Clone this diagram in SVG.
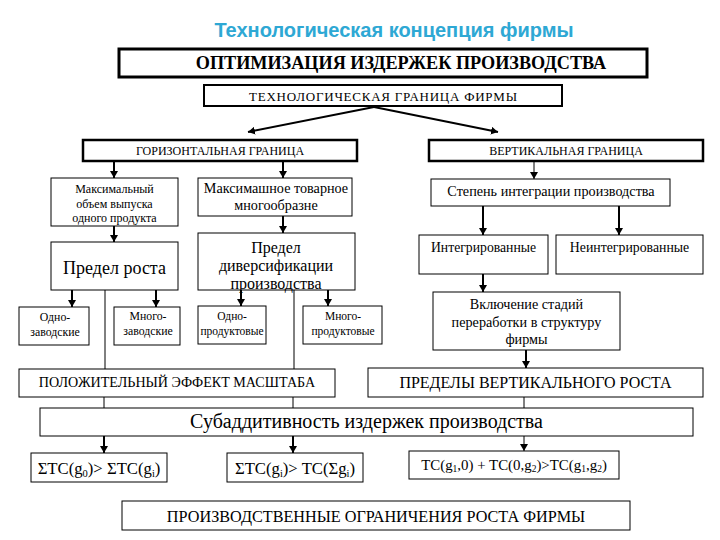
<svg xmlns="http://www.w3.org/2000/svg" width="720" height="540" viewBox="0 0 720 540">
<style>
  .bx{fill:#fff;stroke:#000;stroke-width:1}
  .b2{stroke-width:2}
  .b3{stroke-width:3}
  .bt{stroke-width:2.5}
  .t{font-family:"Liberation Serif","Times New Roman",serif;fill:#000;text-anchor:middle}
  .ln{stroke:#000;stroke-width:1;fill:none}
  .ar{stroke:#000;stroke-width:2;fill:none;marker-end:url(#ah)}
  .ar1{stroke:#000;stroke-width:1;fill:none;marker-end:url(#ah)}
</style>
<defs>
  <marker id="ah" markerUnits="userSpaceOnUse" markerWidth="8" markerHeight="8" refX="7" refY="4" orient="auto">
    <path d="M0,0 L7,4 L0,8 z" fill="#000"/>
  </marker>
</defs>
<rect width="720" height="540" fill="#fff"/>
<text x="394" y="37" font-family="Liberation Sans,Arial,sans-serif" font-weight="bold" font-size="20" fill="#2ea8d4" text-anchor="middle">Технологическая концепция фирмы</text>

<g id="connectors">
  <path class="ar" d="M374,107 L248,132"/>
  <path class="ar" d="M374,107 L498,132"/>
  <path class="ar" d="M114,161 V178"/>
  <path class="ar" d="M283,161 V178"/>
  <path class="ar" d="M114,226 V242"/>
  <path class="ar" d="M283,216 V233"/>
  <path class="ar" d="M72,290 V307"/>
  <path class="ar" d="M156,290 V307"/>
  <path class="ar" d="M241,290 V306"/>
  <path class="ar" d="M328,290 V306"/>
  <path class="ln" d="M105,287 V369"/>
  <path class="ln" d="M294,287 V369"/>
  <path class="ar1" d="M534,161 V179"/>
  <path class="ar" d="M483,206 V235"/>
  <path class="ar" d="M619,206 V235"/>
  <path class="ar" d="M483,274 V292"/>
  <path class="ar" d="M526,350 V368"/>
  <path class="ln" d="M104,397 V408"/>
  <path class="ln" d="M293,397 V408"/>
  <path class="ln" d="M524,397 V408"/>
  <path class="ar" d="M104,436 V453"/>
  <path class="ar" d="M293,436 V453"/>
  <path class="ar1" d="M524,436 V451"/>
</g>

<g id="optim"><rect class="bx b3" x="119" y="49" width="528" height="28"/>
<text class="t" x="401" y="69" font-size="18.2" font-weight="bold">ОПТИМИЗАЦИЯ ИЗДЕРЖЕК ПРОИЗВОДСТВА</text></g>

<g id="techbound"><rect class="bx b2" x="204" y="85" width="358" height="21"/>
<text class="t" x="383" y="101" font-size="13" textLength="268" lengthAdjust="spacing">ТЕХНОЛОГИЧЕСКАЯ ГРАНИЦА ФИРМЫ</text></g>

<g id="horiz"><rect class="bx bt" x="83" y="140" width="274" height="21"/>
<text class="t" x="220" y="155" font-size="12">ГОРИЗОНТАЛЬНАЯ ГРАНИЦА</text></g>

<g id="vert"><rect class="bx bt" x="429" y="140" width="274" height="21"/>
<text class="t" x="566" y="155" font-size="12">ВЕРТИКАЛЬНАЯ ГРАНИЦА</text></g>

<g id="maxvol"><rect class="bx" x="51" y="178" width="127" height="48"/>
<text class="t" x="114.5" y="193" font-size="12">Максимальный</text>
<text class="t" x="114.5" y="208" font-size="12">объем выпуска</text>
<text class="t" x="114.5" y="222" font-size="12">одного продукта</text></g>

<g id="maxvar"><rect class="bx" x="198" y="178" width="154" height="38"/>
<text class="t" x="276" y="193" font-size="14.2">Максимашное товарное</text>
<text class="t" x="276" y="210" font-size="14.2">многообразне</text></g>

<g id="stepen"><rect class="bx" x="431" y="179" width="239" height="27"/>
<text class="t" x="551" y="196" font-size="14.2">Степень интеграции производства</text></g>

<g id="predel"><rect class="bx" x="51" y="242" width="127" height="48"/>
<text class="t" x="114.5" y="274" font-size="18">Предел роста</text></g>

<g id="divers"><rect class="bx" x="198" y="233" width="157" height="57"/>
<text class="t" x="276" y="253" font-size="16">Предел</text>
<text class="t" x="276" y="271" font-size="16">диверсификации</text>
<text class="t" x="276" y="289" font-size="16">производства</text></g>

<g id="integ"><rect class="bx" x="419" y="235" width="129" height="39"/>
<text class="t" x="483.5" y="252" font-size="13.7">Интегрированные</text></g>

<g id="neinteg"><rect class="bx" x="556" y="235" width="147" height="39"/>
<text class="t" x="629.5" y="252" font-size="13.8">Неинтегрированные</text></g>

<g id="odnozav"><rect class="bx" x="19" y="307" width="70" height="38"/>
<text class="t" x="55" y="321" font-size="11.8">Одно-</text>
<text class="t" x="55" y="336" font-size="11.8">заводские</text></g>

<g id="mnogozav"><rect class="bx" x="114" y="307" width="66" height="38"/>
<text class="t" x="148" y="320" font-size="11.8">Много-</text>
<text class="t" x="148" y="335" font-size="11.8">заводские</text></g>

<g id="odnoprod"><rect class="bx" x="198" y="306" width="68" height="38"/>
<text class="t" x="232" y="320" font-size="11.5">Одно-</text>
<text class="t" x="232" y="335" font-size="11.5">продуктовые</text></g>

<g id="mnogoprod"><rect class="bx" x="303" y="306" width="79" height="38"/>
<text class="t" x="343" y="320" font-size="11.5">Много-</text>
<text class="t" x="343" y="335" font-size="11.5">продуктовые</text></g>

<g id="vkl"><rect class="bx" x="433" y="292" width="187" height="58"/>
<text class="t" x="526.5" y="309" font-size="14.2">Включение стадий</text>
<text class="t" x="526.5" y="327" font-size="14.2">переработки в структуру</text>
<text class="t" x="526.5" y="344" font-size="14.2">фирмы</text></g>

<g id="polozh"><rect class="bx" x="19" y="369" width="316" height="28"/>
<text class="t" x="177" y="387" font-size="14.1">ПОЛОЖИТЕЛЬНЫЙ ЭФФЕКТ МАСШТАБА</text></g>

<g id="predely"><rect class="bx" x="368" y="368" width="335" height="29"/>
<text class="t" x="535.5" y="388" font-size="16">ПРЕДЕЛЫ ВЕРТИКАЛЬНОГО РОСТА</text></g>

<g id="subadd"><rect class="bx" x="40" y="408" width="653" height="28"/>
<text class="t" x="366.5" y="428" font-size="20">Субаддитивность издержек производства</text></g>

<g id="f1"><rect class="bx" x="31" y="453" width="136" height="29"/>
<text class="t" x="99" y="474" font-size="16.7">ΣTC(g<tspan font-size="10.5" dy="3">0</tspan><tspan dy="-3">)&gt; ΣTC(g</tspan><tspan font-size="10.5" dy="3">i</tspan><tspan dy="-3">)</tspan></text></g>

<g id="f2"><rect class="bx" x="227" y="453" width="136" height="29"/>
<text class="t" x="295" y="474" font-size="16.7">ΣTC(g<tspan font-size="10.5" dy="3">i</tspan><tspan dy="-3">)&gt; TC(Σg</tspan><tspan font-size="10.5" dy="3">i</tspan><tspan dy="-3">)</tspan></text></g>

<g id="f3"><rect class="bx" x="409" y="451" width="210" height="28"/>
<text class="t" x="514" y="470" font-size="14.9">TC(g<tspan font-size="9.5" dy="2">1</tspan><tspan dy="-2">,0) + TC(0,g</tspan><tspan font-size="9.5" dy="2">2</tspan><tspan dy="-2">)&gt;TC(g</tspan><tspan font-size="9.5" dy="2">1</tspan><tspan dy="-2">,g</tspan><tspan font-size="9.5" dy="2">2</tspan><tspan dy="-2">)</tspan></text></g>

<g id="limits"><rect class="bx" x="122" y="501" width="508" height="29"/>
<text class="t" x="376" y="522" font-size="16.2">ПРОИЗВОДСТВЕННЫЕ ОГРАНИЧЕНИЯ РОСТА ФИРМЫ</text></g>
</svg>
